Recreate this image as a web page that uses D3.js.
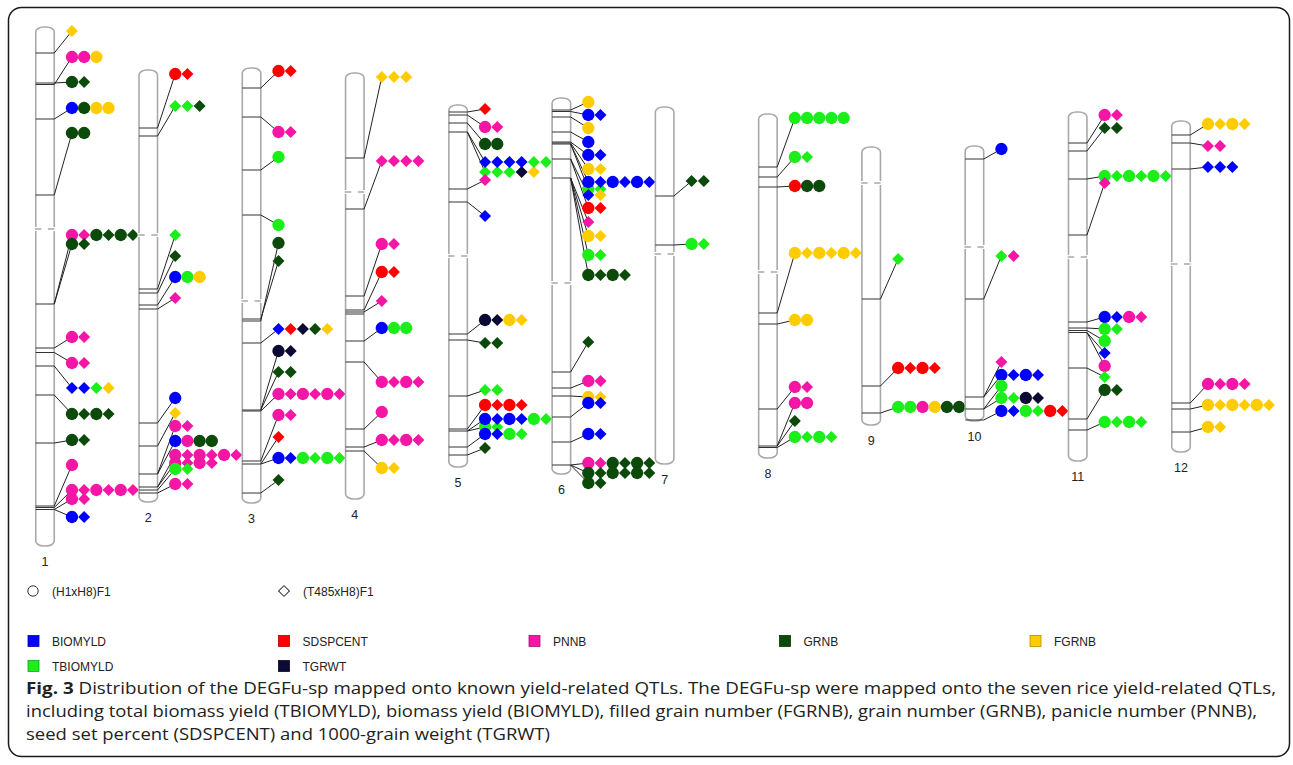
<!DOCTYPE html>
<html><head><meta charset="utf-8">
<script src="https://cdn.jsdelivr.net/npm/d3@7"></script>
<style>html,body{margin:0;padding:0;background:#fff;} svg{display:block;}</style>
</head><body>
<svg id="chart" width="1293" height="765"></svg>
<script>
// ---------------- DATA ----------------
const chromosomes = ["1","2","3","4","5","6","7","8","9","10","11","12"];
// map positions (map units, top = 0)
const chrStart = [27, 70, 68, 73, 105, 98, 107, 114, 147, 146, 112, 121];
const chrEnd   = [546, 502, 503, 499, 467, 474, 464, 458, 425, 421, 461, 452];
const centromere = [229, 235, 301, 192, 256, 283, 254, 272, 183, 247, 257, 264];

const markers = [
  [53, 83, 84.5, 119, 195, 304, 348, 352.5, 366, 395, 443, 506, 507.5, 509.5],
  [128, 136, 289, 293, 305, 309, 423, 446, 474, 487, 490, 493],
  [88, 117, 170, 215, 319, 321, 343, 410, 411, 461, 464, 493],
  [158, 209, 296, 310, 312, 314, 341, 362, 429, 447, 451],
  [112, 115, 123, 132, 189, 202, 334, 340, 396, 429, 431, 447, 455],
  [110, 111.5, 117, 132, 142, 143, 144, 159, 178, 372, 388, 396, 417, 442, 465],
  [196, 245],
  [167, 177, 187, 313, 324, 409, 446, 447.5],
  [299, 386, 413],
  [159, 299, 397, 409, 420],
  [143, 151, 179, 235, 322, 328, 330.5, 332.5, 368, 419, 430],
  [135, 143, 169, 403, 409, 432]
];

// QTL groups: [label position, linked marker position, symbols]
// symbol code: trait letter + c (circle, (H1xH8)F1) / d (diamond, (T485xH8)F1)
const qtl1 = [[31,53,"Fd"],[57,84.5,"Pc Pc Fc"],[82,83,"Gc Gd"],[108,119,"Bc Gc Fc Fc"],[133,195,"Gc Gc"],
  [235,304,"Pc Pd Gc Gd Gc Gd"],[244,304,"Gc Gd"],[337,348,"Pc Pd"],[363,352.5,"Pc Pd"],[388,366,"Bd Bd Td Fd"],
  [414,395,"Gc Gd Gc Gd"],[440,443,"Gc Gd"],[465,506,"Pc"],[490,507.5,"Pc Pd Pc Pd Pc Pd"],[499,509.5,"Pc Pd"],[517,509.5,"Bc Bd"]];
const qtl2 = [[74,128,"Sc Sd"],[106,136,"Td Td Gd"],[235,289,"Td"],[256,293,"Gd"],[277,305,"Bc Tc Fc"],[298,309,"Pd"],
  [398,423,"Bc"],[413,446,"Fd"],[426,474,"Pc Pd"],[441,474,"Bc Pc Gc Gc"],[455,487,"Pc Pd Pc Pd Pc Pd"],
  [463,487,"Pc Pd Pc Pd"],[469,490,"Tc Td"],[484,493,"Pc Pd"]];
const qtl3 = [[71,88,"Sc Sd"],[132,117,"Pc Pd"],[157,170,"Tc"],[225,215,"Tc"],[243,321,"Gc"],[261,319,"Gd"],
  [329,343,"Bd Sd Wd Gd Fd"],[351,410,"Wc Wd"],[372,410,"Gd Gd"],[394,411,"Pc Pd Pc Pd Pc Pd"],[415,461,"Pc Pd"],
  [437,464,"Sd"],[458,464,"Bc Bd Tc Td Tc Td"],[480,493,"Gd"]];
const qtl4 = [[77,158,"Fd Fd Fd"],[161,209,"Pd Pd Pd Pd"],[244,296,"Pc Pd"],[272,310,"Sc Sd"],[301,312,"Pd"],
  [328,341,"Bc Tc Tc"],[382,362,"Pc Pd Pc Pd"],[412,429,"Pc"],[440,447,"Pc Pd Pc Pd"],[468,451,"Fc Fd"]];
const qtl5 = [[109,112,"Sd"],[127,115,"Pc Pd"],[144,123,"Gc Gc"],[172,132,"Td Td Td Wd Fd"],[162,132,"Bd Bd Bd Bd Td Td"],
  [180,189,"Pd"],[216,202,"Bd"],[320,334,"Wc Wd Fc Fd"],[343,340,"Gd Gd"],[390,396,"Td Td"],[405,429,"Sc Sd Sc Sd"],
  [427,431,"Tc Td"],[419,431,"Bc Bd Bc Bd Tc Td"],[434,447,"Bc Bd Tc Td"],[448,455,"Gd"]];
const qtl6 = [[102,110,"Fc"],[115,111.5,"Bc Bd"],[128,117,"Fc"],[142,132,"Bc"],[155,142,"Bc Bd"],[169,143,"Fc Fd"],
  [189,144,"Tc Td"],[182,144,"Bc Bd Bc Bd Bc Bd"],[195,159,"Bd Fd"],[208,159,"Sc Sd"],[222,178,"Pd"],[236,178,"Fc Fd"],
  [255,178,"Tc Td"],[275,178,"Gc Gd Gc Gd"],[342,372,"Gd"],[381,388,"Pc Pd"],[397,396,"Fc Fd"],[403,417,"Bc Bd"],
  [434,442,"Bc Bd"],[463,465,"Pc Pd Gc Gd Gc Gd"],[473,465,"Gc Gd Gc Gd Gc Gd"],[483,465,"Gc Gd"]];
const qtl7 = [[181,196,"Gd Gd"],[244,245,"Tc Td"]];
const qtl8 = [[118,167,"Tc Tc Tc Tc Tc"],[157,177,"Tc Td"],[186,187,"Sc Gc Gc"],[253,313,"Fc Fd Fc Fd Fc Fd"],
  [320,324,"Fc Fc"],[387,409,"Pc Pd"],[403,446,"Pc Pc"],[421,446,"Gd"],[437,447.5,"Tc Td Tc Td"]];
const qtl9 = [[259,299,"Td"],[368,386,"Sc Sd Sc Sd"],[407,413,"Tc Tc Pc Fc Gc Gc"]];
const qtl10 = [[149,159,"Bc"],[256,299,"Td Pd"],[362,397,"Pd"],[375,397,"Bc Bd Bc Bd"],[386,409,"Tc"],
  [398,409,"Tc Td Wc Wd"],[411,420,"Bc Bd Tc Td Sc Sd"]];
const qtl11 = [[115,143,"Pc Pd"],[128,151,"Gd Gd"],[176,179,"Tc Td Tc Td Tc Td"],[183,235,"Pd"],[317,322,"Bc Bd Pc Pd"],
  [329,328,"Tc Td"],[341,330.5,"Tc"],[353,332.5,"Bd"],[366,332.5,"Pc"],[377,368,"Td"],[390,419,"Gc Gd"],[422,430,"Tc Td Tc Td"]];
const qtl12 = [[124,135,"Fc Fd Fc Fd"],[146,143,"Pd Pd"],[167,169,"Bd Bd Bd"],[384,403,"Pc Pd Pc Pd"],
  [405,409,"Fc Fd Fc Fd Fc Fd"],[427,432,"Fc Fd"]];
const qtlGroups = [qtl1,qtl2,qtl3,qtl4,qtl5,qtl6,qtl7,qtl8,qtl9,qtl10,qtl11,qtl12];

const traitNames  = ["BIOMYLD","SDSPCENT","PNNB","GRNB","FGRNB","TBIOMYLD","TGRWT"];
const traitCodes  = ["B","S","P","G","F","T","W"];
const traitColors = ["#0000ff","#ff0000","#f516a5","#0b4a0b","#ffcc00","#1aef1a","#0a0a35"];
const parentNames = ["(H1xH8)F1","(T485xH8)F1"];
const parentShapes = ["c","d"];

const captionBold = "Fig. 3";
const captionLines = [
  " Distribution of the DEGFu-sp mapped onto known yield-related QTLs. The DEGFu-sp were mapped onto the seven rice yield-related QTLs,",
  "including total biomass yield (TBIOMYLD), biomass yield (BIOMYLD), filled grain number (FGRNB), grain number (GRNB), panicle number (PNNB),",
  "seed set percent (SDSPCENT) and 1000-grain weight (TGRWT)"
];
const captionWidths = [1250, 1231, 524];

// ---------------- DRAW ----------------
const svg = d3.select("#chart");

svg.append("rect").attr("x",8.5).attr("y",7.5).attr("width",1281).attr("height",749)
  .attr("rx",13).attr("fill","#fff").attr("stroke","#1a1a1a").attr("stroke-width",1.5);

const x = d3.scalePoint().domain(chromosomes).range([45, 1181]);
const y = d3.scaleLinear().domain([0, 560]).range([0, 560]);
const color = d3.scaleOrdinal().domain(traitCodes).range(traitColors);
const chrW = 18.5, symOff = 17.7, symStep = 12.2;

const circleSym = d3.symbol().type(d3.symbolCircle).size(120);
const diamondSym = d3.symbol().type(d3.symbolSquare).size(72);
function symPath(shape){ return shape === "c" ? circleSym() : diamondSym(); }

const g = svg.append("g");
chromosomes.forEach((name, i) => {
  const cx = x(name), left = cx - chrW/2, right = cx + chrW/2;
  const cg = g.append("g");
  cg.append("rect").attr("x", left).attr("y", y(chrStart[i]))
    .attr("width", chrW).attr("height", y(chrEnd[i]) - y(chrStart[i]))
    .attr("rx", 8).attr("ry", 5).attr("fill","#fff").attr("stroke","#a9a9a9").attr("stroke-width",1.6);
  // centromere
  cg.append("rect").attr("x", left-1.5).attr("y", y(centromere[i])-2).attr("width", chrW+3).attr("height",4).attr("fill","#fff");
  cg.append("line").attr("x1", left-0.8).attr("x2", right+0.8).attr("y1", y(centromere[i])).attr("y2", y(centromere[i]))
    .attr("stroke","#a9a9a9").attr("stroke-width",1.5).attr("stroke-dasharray","6.5,6.5");
  // markers
  cg.selectAll("line.mk").data(markers[i]).join("line").attr("class","mk")
    .attr("x1", left).attr("x2", right).attr("y1", d => y(d)).attr("y2", d => y(d))
    .attr("stroke","#333").attr("stroke-width",1);
  // connectors
  cg.selectAll("line.cn").data(qtlGroups[i]).join("line").attr("class","cn")
    .attr("x1", right).attr("y1", d => y(d[1]))
    .attr("x2", right + symOff).attr("y2", d => y(d[0]))
    .attr("stroke","#222").attr("stroke-width",1);
  // symbols
  qtlGroups[i].forEach(grp => {
    const syms = grp[2].split(" ");
    cg.append("g").selectAll("path").data(syms).join("path")
      .attr("d", s => symPath(s[1]))
      .attr("transform", (s, k) => `translate(${right + symOff + k*symStep},${y(grp[0])})` + (s[1] === "d" ? " rotate(45)" : ""))
      .attr("fill", s => color(s[0]));
  });
  // label
  cg.append("text").attr("x", cx).attr("y", y(chrEnd[i]) + 20).attr("text-anchor","middle")
    .attr("font-family","Liberation Sans, Arial, sans-serif").attr("font-size",12.5).attr("fill","#222").text(name);
});

// legend: parents
const legF = "Liberation Sans, Arial, sans-serif";
parentNames.forEach((p, i) => {
  const lx = [33, 284][i], ly = 591;
  svg.append("path").attr("d", parentShapes[i] === "c" ? d3.symbol().type(d3.symbolCircle).size(85)() : d3.symbol().type(d3.symbolSquare).size(58)())
    .attr("transform", `translate(${lx},${ly})` + (i === 1 ? " rotate(45)" : ""))
    .attr("fill","none").attr("stroke","#333").attr("stroke-width",1);
  svg.append("text").attr("x", lx + 19).attr("y", ly + 4.5).attr("font-family", legF).attr("font-size",12).attr("fill","#222").text(p);
});
// legend: traits
const legCols = d3.scaleLinear().domain([0,4]).range([28, 1030]);
traitNames.forEach((t, i) => {
  const col = i < 5 ? i : i - 5, row = i < 5 ? 0 : 1;
  const lx = legCols(col), ly = 641 + row*25;
  svg.append("rect").attr("x", lx).attr("y", ly - 5.5).attr("width", 11).attr("height", 11)
    .attr("fill", traitColors[i]).attr("stroke", d3.color(traitColors[i]).darker(1)).attr("stroke-width",0.8);
  svg.append("text").attr("x", lx + 24).attr("y", ly + 4.5).attr("font-family", legF).attr("font-size",12).attr("fill","#222").text(t);
});

// caption
const capG = svg.append("g").attr("font-family", "Open Sans, sans-serif").attr("fill","#222").attr("font-size", 16.5);
const t1 = capG.append("text").attr("x", 26).attr("y", 694)
  .attr("textLength", captionWidths[0]).attr("lengthAdjust","spacingAndGlyphs");
t1.append("tspan").attr("font-weight","bold").text(captionBold);
t1.append("tspan").text(captionLines[0]);
capG.append("text").attr("x", 26).attr("y", 717).attr("textLength", captionWidths[1]).attr("lengthAdjust","spacingAndGlyphs").text(captionLines[1]);
capG.append("text").attr("x", 26).attr("y", 740).attr("textLength", captionWidths[2]).attr("lengthAdjust","spacingAndGlyphs").text(captionLines[2]);
</script>
</body></html>
